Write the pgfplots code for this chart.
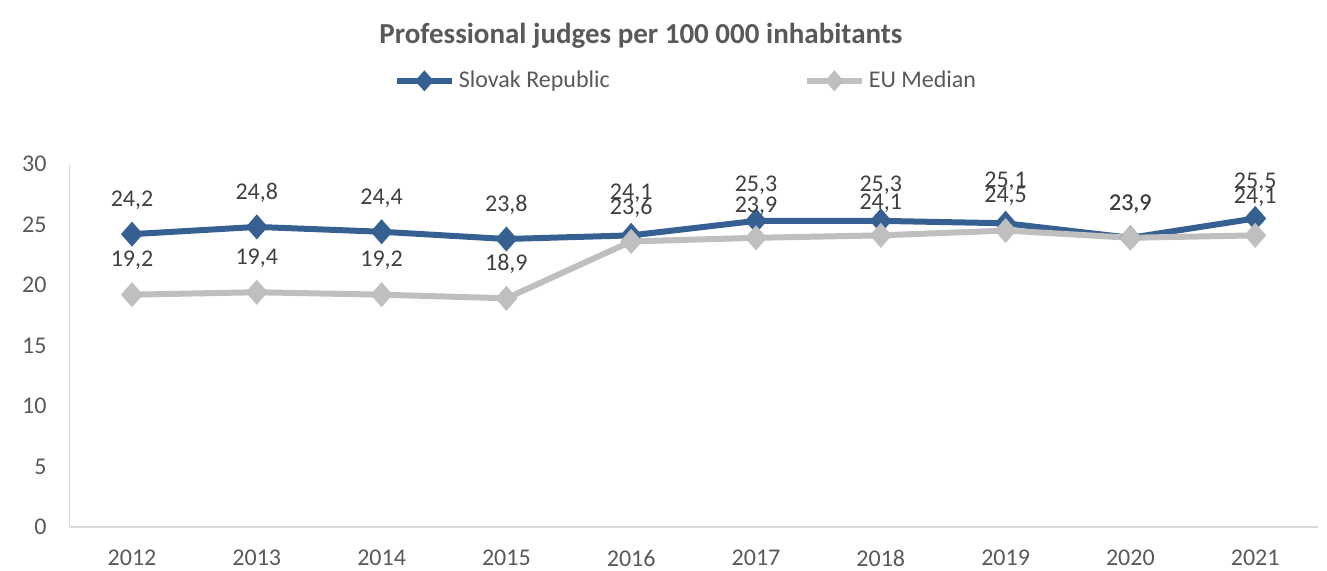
\documentclass[border=0pt]{standalone}
\usepackage{pgfplots}
\pgfplotsset{compat=1.18}
\usepackage{pgfplotstable}
\usepackage{fontspec}
\setmainfont{Carlito}
\definecolor{skblue}{HTML}{376092}
\definecolor{eugray}{HTML}{BFBFBF}
\definecolor{txt}{HTML}{595959}
\definecolor{lbl}{HTML}{404040}
\definecolor{axl}{HTML}{D9D9D9}
\pgfplotstableread{
x y dy
0 24.2 17
1 24.8 17
2 24.4 17
3 23.8 17
4 24.1 21
5 25.3 18
6 25.3 18
7 25.1 21
8 23.9 17
9 25.5 18
}\sk
\pgfplotstableread{
x y dy
0 19.2 17
1 19.4 17
2 19.2 17
3 18.9 17
4 23.6 17
5 23.9 16
6 24.1 16
7 24.5 17
8 23.9 17
9 24.1 19
}\eu
\begin{document}
\begin{tikzpicture}
\useasboundingbox (-34.8pt,-22pt) rectangle (628.7pt,263.5pt);
\begin{axis}[
  at={(0,0)}, anchor=south west,
  scale only axis, width=624pt, height=181.5pt,
  xmin=-0.5, xmax=9.5, ymin=0, ymax=30,
  xtick={0,...,9},
  xticklabels={2012,2013,2014,2015,2016,2017,2018,2019,2020,2021},
  ytick={0,5,...,30},
  axis x line=bottom, axis y line=left,
  axis line style={draw=axl, line width=0.8pt, -},
  major tick length=0pt,
  tick label style={font=\fontsize{12}{14}\selectfont, text=txt},
  yticklabel style={xshift=-8pt},
  xticklabel style={yshift=-8pt},
  /pgf/number format/assume math mode=true,
  clip=false,
  nodes near coords,
  nodes near coords style={font=\fontsize{12}{14}\selectfont, text=lbl, anchor=center,
     /pgf/number format/use comma, /pgf/number format/fixed, /pgf/number format/fixed zerofill, /pgf/number format/precision=1},
  every node near coord/.append style={yshift=\dy pt},
  legend columns=2,
  legend style={at={(0.4947,1.2290)}, anchor=center, draw=none, fill=none,
     font=\fontsize{12}{14}\selectfont, text=txt, inner sep=1pt,
     /tikz/every even column/.append style={column sep=95pt}},
  legend image code/.code={\draw[mark repeat=2,mark phase=2,#1,mark size=3pt] plot coordinates {(0pt,0pt) (13.75pt,0pt) (27.5pt,0pt)};},
]
\addplot[skblue, line width=3pt, mark=diamond*, mark size=4pt, mark options={xscale=1.17, solid},
  visualization depends on={\thisrow{dy} \as \dy}] table[x=x,y=y] {\sk};
\addplot[eugray, line width=3pt, mark=diamond*, mark size=4pt, mark options={xscale=1.17, solid},
  visualization depends on={\thisrow{dy} \as \dy}] table[x=x,y=y] {\eu};
\legend{Slovak Republic, EU Median}
\node[font=\bfseries\fontsize{14.5}{17}\selectfont, text=txt] at (rel axis cs:0.4578,1.3526) {Professional judges per 100 000 inhabitants};
\end{axis}
\end{tikzpicture}
\end{document}
